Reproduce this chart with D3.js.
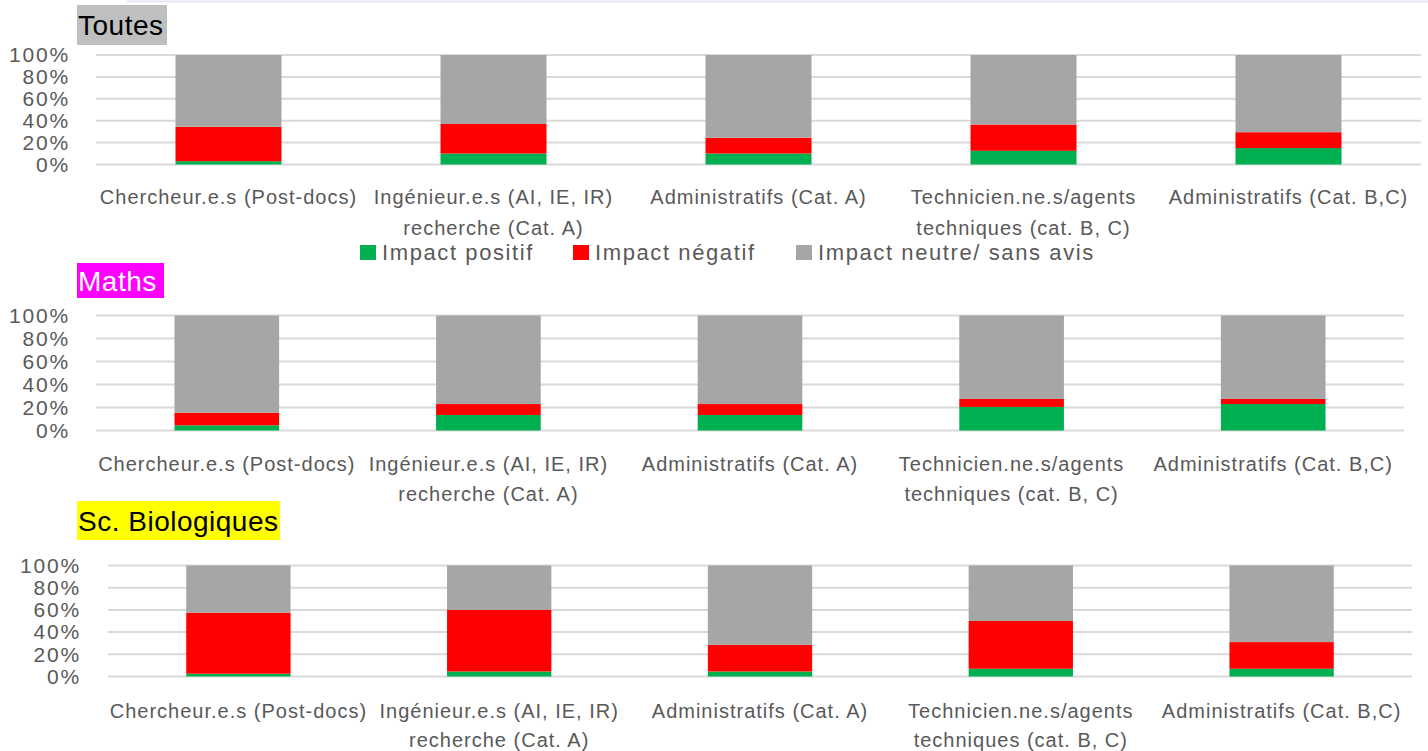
<!DOCTYPE html>
<html><head><meta charset="utf-8">
<script src="https://cdn.jsdelivr.net/npm/d3@7"></script>
<style>body{margin:0;background:#fff}svg{display:block}</style>
</head><body>
<script>
const categories = ["Chercheur.e.s (Post-docs)", "Ingénieur.e.s (AI, IE, IR)|recherche (Cat. A)", "Administratifs (Cat. A)", "Technicien.ne.s/agents|techniques (cat. B, C)", "Administratifs (Cat. B,C)"];
const seriesNames = ["Impact positif", "Impact négatif", "Impact neutre/ sans avis"];
const seriesColors = ["#00b050", "#ff0000", "#a6a6a6"];
const yTicks = [0, 20, 40, 60, 80, 100];

const toutesPositif = [3, 10, 10, 12.5, 15];
const toutesNegatif = [31.5, 27, 14.5, 24, 14.5];
const toutesNeutre = [65.5, 63, 75.5, 63.5, 70.5];

const mathsPositif = [4.5, 13.5, 13.5, 20.5, 23];
const mathsNegatif = [11, 9.5, 9.5, 7, 4.5];
const mathsNeutre = [84.5, 77, 77, 72.5, 72.5];

const bioPositif = [2.5, 4.5, 4.5, 7, 7];
const bioNegatif = [55, 55.5, 24, 43, 24];
const bioNeutre = [42.5, 40, 71.5, 50, 69];

const W = 1428, H = 751;
const svg = d3.select("body").append("svg").attr("width", W).attr("height", H);
const FONT = "'Liberation Sans', Arial, sans-serif";
const TXT = "#595959";

svg.append("line").attr("x1", 127).attr("x2", W).attr("y1", 1.5).attr("y2", 1.5)
  .attr("stroke", "#e3e8f0").attr("stroke-width", 2);

const panels = [
  {title: "Toutes", bg: "#bfbfbf", fg: "#000", box: [77, 5, 90, 40], pos: toutesPositif, neg: toutesNegatif, neu: toutesNeutre,
   x0: 96, x1: 1421, yTop: 55, yBot: 164.5, lab1: 197, lab2: 228, labX: 70},
  {title: "Maths", bg: "#ff00ff", fg: "#fff", box: [77, 263, 87, 35], pos: mathsPositif, neg: mathsNegatif, neu: mathsNeutre,
   x0: 96, x1: 1404, yTop: 315.5, yBot: 430.5, lab1: 464, lab2: 494, labX: 70},
  {title: "Sc. Biologiques", bg: "#ffff00", fg: "#000", box: [77, 501, 203, 39], pos: bioPositif, neg: bioNegatif, neu: bioNeutre,
   x0: 108, x1: 1412, yTop: 565.5, yBot: 676.5, lab1: 711, lab2: 740, labX: 81}
];

panels.forEach(p => {
  const g = svg.append("g");
  // title
  g.append("rect").attr("x", p.box[0]).attr("y", p.box[1]).attr("width", p.box[2]).attr("height", p.box[3]).attr("fill", p.bg);
  g.append("text").attr("x", p.box[0] + 1).attr("y", p.box[1] + p.box[3] / 2).attr("dy", "0.36em")
    .attr("font-family", FONT).attr("font-size", 28).attr("letter-spacing", 0.5).attr("fill", p.fg).text(p.title);

  const x = d3.scaleBand().domain(categories).range([p.x0, p.x1]).paddingInner(0.6).paddingOuter(0.3);
  const y = d3.scaleLinear().domain([0, 100]).range([p.yBot, p.yTop]);

  // gridlines
  g.append("g").selectAll("line").data(yTicks).join("line")
    .attr("x1", p.x0).attr("x2", p.x1).attr("y1", d => y(d)).attr("y2", d => y(d))
    .attr("stroke", "#d9d9d9").attr("stroke-width", 2);

  // y axis labels
  const yAxis = d3.axisLeft(y).tickValues(yTicks).tickFormat(d => d + "%").tickSize(0).tickPadding(0);
  const ya = g.append("g").attr("transform", `translate(${p.labX},0)`).call(yAxis);
  ya.select(".domain").remove();
  ya.selectAll("text").attr("font-family", FONT).attr("font-size", 21).attr("letter-spacing", 1.8).attr("fill", TXT);

  // stacked bars
  const rows = categories.map((c, i) => ({cat: c, s0: p.pos[i], s1: p.neg[i], s2: p.neu[i]}));
  const stack = d3.stack().keys(["s0", "s1", "s2"])(rows);
  stack.forEach((layer, k) => {
    g.append("g").selectAll("rect").data(layer).join("rect")
      .attr("x", d => x(d.data.cat)).attr("width", x.bandwidth())
      .attr("y", d => y(d[1])).attr("height", d => y(d[0]) - y(d[1]))
      .attr("fill", seriesColors[k]);
  });

  // category labels
  const xa = g.append("g");
  categories.forEach(c => {
    const lines = c.split("|");
    const cx = x(c) + x.bandwidth() / 2;
    lines.forEach((ln, j) => {
      xa.append("text").attr("x", cx).attr("y", j === 0 ? p.lab1 : p.lab2).attr("dy", "0.36em")
        .attr("text-anchor", "middle").attr("font-family", FONT).attr("font-size", 20).attr("letter-spacing", 1)
        .attr("fill", TXT).text(ln);
    });
  });
});

// legend
const legX = [360, 573, 796];
const leg = svg.append("g");
seriesNames.forEach((n, i) => {
  leg.append("rect").attr("x", legX[i]).attr("y", 245).attr("width", 16).attr("height", 15).attr("fill", seriesColors[i]);
  leg.append("text").attr("x", legX[i] + 22).attr("y", 252.5).attr("dy", "0.36em")
    .attr("font-family", FONT).attr("font-size", 22).attr("letter-spacing", 1.6).attr("fill", TXT).text(n);
});
</script>
</body></html>
